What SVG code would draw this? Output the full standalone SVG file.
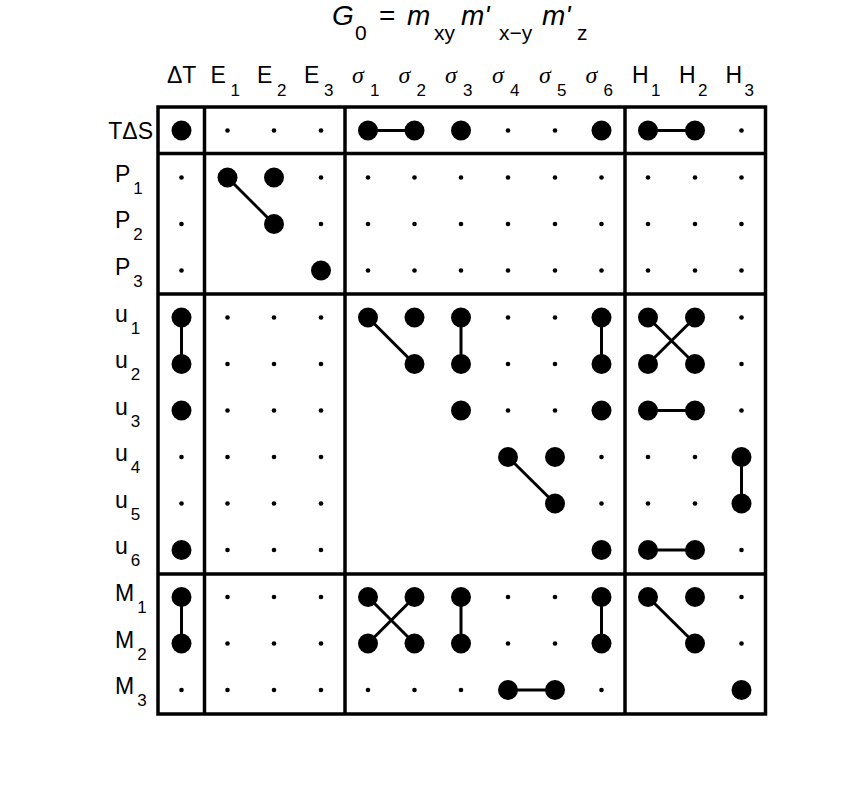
<svg xmlns="http://www.w3.org/2000/svg" width="856" height="812" viewBox="0 0 856 812">
<defs>
<style>
.lbl{font-family:"Liberation Sans",Arial,sans-serif;font-size:23px;fill:#000}
.sub{font-size:17px}
.sig{font-family:"Liberation Serif","Times New Roman",serif;font-style:italic;font-size:24px}
.ttl{font-family:"Liberation Sans",Arial,sans-serif;font-size:28px;fill:#000}
.tsub{font-size:21px}
.it{font-style:italic}
.frame{fill:none;stroke:#000;stroke-width:3.5}
.div{stroke:#000;stroke-width:3.5}
.b{fill:#000}
.s{fill:#000}
.con{stroke:#000;stroke-width:3;fill:none}
</style>
</defs>
<rect width="856" height="812" fill="#fff"/>

<g id="title">
<text class="ttl it" x="332" y="25">G</text>
<text class="ttl tsub" x="355" y="40">0</text>
<text class="ttl" x="379" y="25">=</text>
<text class="ttl it" x="407" y="25">m</text>
<text class="ttl tsub" x="434" y="40">xy</text>
<text class="ttl it" x="461" y="25">m'</text>
<text class="ttl tsub" x="499" y="40">x−y</text>
<text class="ttl it" x="542" y="25">m'</text>
<text class="ttl tsub" x="577" y="40">z</text>
</g>

<g id="col-labels">
<text class="lbl" x="167" y="83">ΔT</text>
<text class="lbl" x="210.5" y="83">E</text><text class="lbl sub" x="230.5" y="96">1</text>
<text class="lbl" x="257" y="83">E</text><text class="lbl sub" x="277" y="96">2</text>
<text class="lbl" x="304" y="83">E</text><text class="lbl sub" x="324" y="96">3</text>
<text class="lbl sig" x="352" y="83">σ</text><text class="lbl sub" x="370" y="96">1</text>
<text class="lbl sig" x="398.5" y="83">σ</text><text class="lbl sub" x="416.5" y="96">2</text>
<text class="lbl sig" x="445" y="83">σ</text><text class="lbl sub" x="463" y="96">3</text>
<text class="lbl sig" x="492" y="83">σ</text><text class="lbl sub" x="510" y="96">4</text>
<text class="lbl sig" x="539" y="83">σ</text><text class="lbl sub" x="557" y="96">5</text>
<text class="lbl sig" x="585.5" y="83">σ</text><text class="lbl sub" x="603.5" y="96">6</text>
<text class="lbl" x="632" y="83">H</text><text class="lbl sub" x="651" y="96">1</text>
<text class="lbl" x="679" y="83">H</text><text class="lbl sub" x="698" y="96">2</text>
<text class="lbl" x="725.5" y="83">H</text><text class="lbl sub" x="744.5" y="96">3</text>
</g>

<g id="row-labels">
<text class="lbl" x="153" y="138.5" text-anchor="end">TΔS</text>
<text class="lbl" x="115" y="181.5">P<tspan class="sub" dx="3" dy="12">1</tspan></text>
<text class="lbl" x="115" y="228">P<tspan class="sub" dx="3" dy="12">2</tspan></text>
<text class="lbl" x="115" y="274.5">P<tspan class="sub" dx="3" dy="12">3</tspan></text>
<text class="lbl" x="115" y="321.5">u<tspan class="sub" dx="3" dy="12">1</tspan></text>
<text class="lbl" x="115" y="368">u<tspan class="sub" dx="3" dy="12">2</tspan></text>
<text class="lbl" x="115" y="414.5">u<tspan class="sub" dx="3" dy="12">3</tspan></text>
<text class="lbl" x="115" y="461">u<tspan class="sub" dx="3" dy="12">4</tspan></text>
<text class="lbl" x="115" y="507.5">u<tspan class="sub" dx="3" dy="12">5</tspan></text>
<text class="lbl" x="115" y="554">u<tspan class="sub" dx="3" dy="12">6</tspan></text>
<text class="lbl" x="115" y="601">M<tspan class="sub" dx="3" dy="12">1</tspan></text>
<text class="lbl" x="115" y="647.5">M<tspan class="sub" dx="3" dy="12">2</tspan></text>
<text class="lbl" x="115" y="694">M<tspan class="sub" dx="3" dy="12">3</tspan></text>
</g>

<g id="frame">
<rect class="frame" x="158" y="107" width="607.5" height="607"/>
<line class="div" x1="204.5" y1="107" x2="204.5" y2="714"/>
<line class="div" x1="345" y1="107" x2="345" y2="714"/>
<line class="div" x1="625" y1="107" x2="625" y2="714"/>
<line class="div" x1="158" y1="153.5" x2="765.5" y2="153.5"/>
<line class="div" x1="158" y1="294" x2="765.5" y2="294"/>
<line class="div" x1="158" y1="574" x2="765.5" y2="574"/>
</g>

<g id="connectors">
<line class="con" x1="368" y1="130.5" x2="414.5" y2="130.5"/>
<line class="con" x1="648" y1="130.5" x2="695" y2="130.5"/>
<line class="con" x1="227.5" y1="177.5" x2="274" y2="224"/>
<line class="con" x1="181.5" y1="317.5" x2="181.5" y2="364"/>
<line class="con" x1="368" y1="317.5" x2="414.5" y2="364"/>
<line class="con" x1="461" y1="317.5" x2="461" y2="364"/>
<line class="con" x1="601.5" y1="317.5" x2="601.5" y2="364"/>
<line class="con" x1="648" y1="317.5" x2="695" y2="364"/>
<line class="con" x1="695" y1="317.5" x2="648" y2="364"/>
<line class="con" x1="648" y1="410.5" x2="695" y2="410.5"/>
<line class="con" x1="508" y1="457" x2="555" y2="503.5"/>
<line class="con" x1="741.5" y1="457" x2="741.5" y2="503.5"/>
<line class="con" x1="648" y1="550" x2="695" y2="550"/>
<line class="con" x1="181.5" y1="597" x2="181.5" y2="643.5"/>
<line class="con" x1="368" y1="597" x2="414.5" y2="643.5"/>
<line class="con" x1="414.5" y1="597" x2="368" y2="643.5"/>
<line class="con" x1="461" y1="597" x2="461" y2="643.5"/>
<line class="con" x1="601.5" y1="597" x2="601.5" y2="643.5"/>
<line class="con" x1="648" y1="597" x2="695" y2="643.5"/>
<line class="con" x1="508" y1="690" x2="555" y2="690"/>
</g>

<g id="minor-dots">
<circle class="s" cx="227.5" cy="130.5" r="2.3"/><circle class="s" cx="274" cy="130.5" r="2.3"/><circle class="s" cx="321" cy="130.5" r="2.3"/><circle class="s" cx="508" cy="130.5" r="2.3"/><circle class="s" cx="555" cy="130.5" r="2.3"/><circle class="s" cx="741.5" cy="130.5" r="2.3"/>
<circle class="s" cx="181.5" cy="177.5" r="2.3"/><circle class="s" cx="321" cy="177.5" r="2.3"/><circle class="s" cx="368" cy="177.5" r="2.3"/><circle class="s" cx="414.5" cy="177.5" r="2.3"/><circle class="s" cx="461" cy="177.5" r="2.3"/><circle class="s" cx="508" cy="177.5" r="2.3"/><circle class="s" cx="555" cy="177.5" r="2.3"/><circle class="s" cx="601.5" cy="177.5" r="2.3"/><circle class="s" cx="648" cy="177.5" r="2.3"/><circle class="s" cx="695" cy="177.5" r="2.3"/><circle class="s" cx="741.5" cy="177.5" r="2.3"/>
<circle class="s" cx="181.5" cy="224" r="2.3"/><circle class="s" cx="321" cy="224" r="2.3"/><circle class="s" cx="368" cy="224" r="2.3"/><circle class="s" cx="414.5" cy="224" r="2.3"/><circle class="s" cx="461" cy="224" r="2.3"/><circle class="s" cx="508" cy="224" r="2.3"/><circle class="s" cx="555" cy="224" r="2.3"/><circle class="s" cx="601.5" cy="224" r="2.3"/><circle class="s" cx="648" cy="224" r="2.3"/><circle class="s" cx="695" cy="224" r="2.3"/><circle class="s" cx="741.5" cy="224" r="2.3"/>
<circle class="s" cx="181.5" cy="270.5" r="2.3"/><circle class="s" cx="368" cy="270.5" r="2.3"/><circle class="s" cx="414.5" cy="270.5" r="2.3"/><circle class="s" cx="461" cy="270.5" r="2.3"/><circle class="s" cx="508" cy="270.5" r="2.3"/><circle class="s" cx="555" cy="270.5" r="2.3"/><circle class="s" cx="601.5" cy="270.5" r="2.3"/><circle class="s" cx="648" cy="270.5" r="2.3"/><circle class="s" cx="695" cy="270.5" r="2.3"/><circle class="s" cx="741.5" cy="270.5" r="2.3"/>
<circle class="s" cx="227.5" cy="317.5" r="2.3"/><circle class="s" cx="274" cy="317.5" r="2.3"/><circle class="s" cx="321" cy="317.5" r="2.3"/><circle class="s" cx="508" cy="317.5" r="2.3"/><circle class="s" cx="555" cy="317.5" r="2.3"/><circle class="s" cx="741.5" cy="317.5" r="2.3"/>
<circle class="s" cx="227.5" cy="364" r="2.3"/><circle class="s" cx="274" cy="364" r="2.3"/><circle class="s" cx="321" cy="364" r="2.3"/><circle class="s" cx="508" cy="364" r="2.3"/><circle class="s" cx="555" cy="364" r="2.3"/><circle class="s" cx="741.5" cy="364" r="2.3"/>
<circle class="s" cx="227.5" cy="410.5" r="2.3"/><circle class="s" cx="274" cy="410.5" r="2.3"/><circle class="s" cx="321" cy="410.5" r="2.3"/><circle class="s" cx="508" cy="410.5" r="2.3"/><circle class="s" cx="555" cy="410.5" r="2.3"/><circle class="s" cx="741.5" cy="410.5" r="2.3"/>
<circle class="s" cx="181.5" cy="457" r="2.3"/><circle class="s" cx="227.5" cy="457" r="2.3"/><circle class="s" cx="274" cy="457" r="2.3"/><circle class="s" cx="321" cy="457" r="2.3"/><circle class="s" cx="601.5" cy="457" r="2.3"/><circle class="s" cx="648" cy="457" r="2.3"/><circle class="s" cx="695" cy="457" r="2.3"/>
<circle class="s" cx="181.5" cy="503.5" r="2.3"/><circle class="s" cx="227.5" cy="503.5" r="2.3"/><circle class="s" cx="274" cy="503.5" r="2.3"/><circle class="s" cx="321" cy="503.5" r="2.3"/><circle class="s" cx="601.5" cy="503.5" r="2.3"/><circle class="s" cx="648" cy="503.5" r="2.3"/><circle class="s" cx="695" cy="503.5" r="2.3"/>
<circle class="s" cx="227.5" cy="550" r="2.3"/><circle class="s" cx="274" cy="550" r="2.3"/><circle class="s" cx="321" cy="550" r="2.3"/><circle class="s" cx="741.5" cy="550" r="2.3"/>
<circle class="s" cx="227.5" cy="597" r="2.3"/><circle class="s" cx="274" cy="597" r="2.3"/><circle class="s" cx="321" cy="597" r="2.3"/><circle class="s" cx="508" cy="597" r="2.3"/><circle class="s" cx="555" cy="597" r="2.3"/><circle class="s" cx="741.5" cy="597" r="2.3"/>
<circle class="s" cx="227.5" cy="643.5" r="2.3"/><circle class="s" cx="274" cy="643.5" r="2.3"/><circle class="s" cx="321" cy="643.5" r="2.3"/><circle class="s" cx="508" cy="643.5" r="2.3"/><circle class="s" cx="555" cy="643.5" r="2.3"/><circle class="s" cx="741.5" cy="643.5" r="2.3"/>
<circle class="s" cx="181.5" cy="690" r="2.3"/><circle class="s" cx="227.5" cy="690" r="2.3"/><circle class="s" cx="274" cy="690" r="2.3"/><circle class="s" cx="321" cy="690" r="2.3"/><circle class="s" cx="368" cy="690" r="2.3"/><circle class="s" cx="414.5" cy="690" r="2.3"/><circle class="s" cx="461" cy="690" r="2.3"/><circle class="s" cx="601.5" cy="690" r="2.3"/>
</g>

<g id="n-TdS-dT"><circle class="b" cx="181.5" cy="130.5" r="10"/></g>
<g id="n-TdS-s1"><circle class="b" cx="368" cy="130.5" r="10"/></g>
<g id="n-TdS-s2"><circle class="b" cx="414.5" cy="130.5" r="10"/></g>
<g id="n-TdS-s3"><circle class="b" cx="461" cy="130.5" r="10"/></g>
<g id="n-TdS-s6"><circle class="b" cx="601.5" cy="130.5" r="10"/></g>
<g id="n-TdS-H1"><circle class="b" cx="648" cy="130.5" r="10"/></g>
<g id="n-TdS-H2"><circle class="b" cx="695" cy="130.5" r="10"/></g>
<g id="n-P1-E1"><circle class="b" cx="227.5" cy="177.5" r="10"/></g>
<g id="n-P1-E2"><circle class="b" cx="274" cy="177.5" r="10"/></g>
<g id="n-P2-E2"><circle class="b" cx="274" cy="224" r="10"/></g>
<g id="n-P3-E3"><circle class="b" cx="321" cy="270.5" r="10"/></g>
<g id="n-u1-dT"><circle class="b" cx="181.5" cy="317.5" r="10"/></g>
<g id="n-u1-s1"><circle class="b" cx="368" cy="317.5" r="10"/></g>
<g id="n-u1-s2"><circle class="b" cx="414.5" cy="317.5" r="10"/></g>
<g id="n-u1-s3"><circle class="b" cx="461" cy="317.5" r="10"/></g>
<g id="n-u1-s6"><circle class="b" cx="601.5" cy="317.5" r="10"/></g>
<g id="n-u1-H1"><circle class="b" cx="648" cy="317.5" r="10"/></g>
<g id="n-u1-H2"><circle class="b" cx="695" cy="317.5" r="10"/></g>
<g id="n-u2-dT"><circle class="b" cx="181.5" cy="364" r="10"/></g>
<g id="n-u2-s2"><circle class="b" cx="414.5" cy="364" r="10"/></g>
<g id="n-u2-s3"><circle class="b" cx="461" cy="364" r="10"/></g>
<g id="n-u2-s6"><circle class="b" cx="601.5" cy="364" r="10"/></g>
<g id="n-u2-H1"><circle class="b" cx="648" cy="364" r="10"/></g>
<g id="n-u2-H2"><circle class="b" cx="695" cy="364" r="10"/></g>
<g id="n-u3-dT"><circle class="b" cx="181.5" cy="410.5" r="10"/></g>
<g id="n-u3-s3"><circle class="b" cx="461" cy="410.5" r="10"/></g>
<g id="n-u3-s6"><circle class="b" cx="601.5" cy="410.5" r="10"/></g>
<g id="n-u3-H1"><circle class="b" cx="648" cy="410.5" r="10"/></g>
<g id="n-u3-H2"><circle class="b" cx="695" cy="410.5" r="10"/></g>
<g id="n-u4-s4"><circle class="b" cx="508" cy="457" r="10"/></g>
<g id="n-u4-s5"><circle class="b" cx="555" cy="457" r="10"/></g>
<g id="n-u4-H3"><circle class="b" cx="741.5" cy="457" r="10"/></g>
<g id="n-u5-s5"><circle class="b" cx="555" cy="503.5" r="10"/></g>
<g id="n-u5-H3"><circle class="b" cx="741.5" cy="503.5" r="10"/></g>
<g id="n-u6-dT"><circle class="b" cx="181.5" cy="550" r="10"/></g>
<g id="n-u6-s6"><circle class="b" cx="601.5" cy="550" r="10"/></g>
<g id="n-u6-H1"><circle class="b" cx="648" cy="550" r="10"/></g>
<g id="n-u6-H2"><circle class="b" cx="695" cy="550" r="10"/></g>
<g id="n-M1-dT"><circle class="b" cx="181.5" cy="597" r="10"/></g>
<g id="n-M1-s1"><circle class="b" cx="368" cy="597" r="10"/></g>
<g id="n-M1-s2"><circle class="b" cx="414.5" cy="597" r="10"/></g>
<g id="n-M1-s3"><circle class="b" cx="461" cy="597" r="10"/></g>
<g id="n-M1-s6"><circle class="b" cx="601.5" cy="597" r="10"/></g>
<g id="n-M1-H1"><circle class="b" cx="648" cy="597" r="10"/></g>
<g id="n-M1-H2"><circle class="b" cx="695" cy="597" r="10"/></g>
<g id="n-M2-dT"><circle class="b" cx="181.5" cy="643.5" r="10"/></g>
<g id="n-M2-s1"><circle class="b" cx="368" cy="643.5" r="10"/></g>
<g id="n-M2-s2"><circle class="b" cx="414.5" cy="643.5" r="10"/></g>
<g id="n-M2-s3"><circle class="b" cx="461" cy="643.5" r="10"/></g>
<g id="n-M2-s6"><circle class="b" cx="601.5" cy="643.5" r="10"/></g>
<g id="n-M2-H2"><circle class="b" cx="695" cy="643.5" r="10"/></g>
<g id="n-M3-s4"><circle class="b" cx="508" cy="690" r="10"/></g>
<g id="n-M3-s5"><circle class="b" cx="555" cy="690" r="10"/></g>
<g id="n-M3-H3"><circle class="b" cx="741.5" cy="690" r="10"/></g>
</svg>
